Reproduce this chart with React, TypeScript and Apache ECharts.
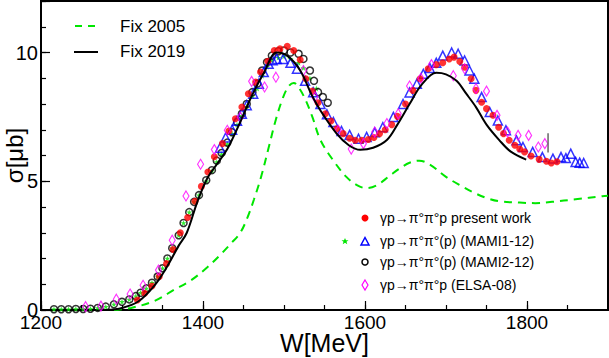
import React, { useEffect, useRef } from "react";
import * as echarts from "echarts";

// ---------- data (W [MeV], sigma [µb]) ----------
const fix2019: [number, number][] = [
  [1280, 0.0], [1300, 0.08], [1320, 0.33], [1340, 0.95], [1355, 1.65], [1370, 2.5],
  [1380, 3.0], [1393, 4.2], [1405, 5.1], [1418, 5.7], [1430, 6.25], [1446, 7.3],
  [1460, 8.3], [1475, 9.2], [1491, 10.0], [1505, 9.85], [1520, 9.3], [1535, 8.3],
  [1545, 7.75], [1565, 6.85], [1580, 6.4], [1594, 6.22], [1610, 6.3], [1627, 6.6],
  [1640, 7.2], [1655, 8.0], [1670, 8.75], [1688, 9.21], [1700, 9.15], [1713, 8.9],
  [1725, 8.4], [1737, 7.88], [1750, 7.2], [1766, 6.59], [1780, 6.15], [1799, 5.84],
];

const fix2005: [number, number][] = [
  [1290, 0.0], [1311, 0.08], [1340, 0.35], [1364, 0.78], [1385, 1.15], [1405, 1.65],
  [1420, 2.1], [1435, 2.6], [1446, 3.0], [1455, 3.6], [1463, 4.3], [1472, 5.2],
  [1481, 6.3], [1490, 7.4], [1499, 8.27], [1506, 8.7], [1512, 8.82], [1518, 8.65],
  [1526, 8.2], [1535, 7.5], [1545, 6.6], [1561, 5.8], [1577, 5.17], [1590, 4.85],
  [1602, 4.73], [1615, 4.85], [1630, 5.2], [1643, 5.5], [1655, 5.72], [1667, 5.8],
  [1680, 5.65], [1700, 5.17], [1717, 4.85], [1735, 4.55], [1750, 4.35], [1766, 4.22],
  [1791, 4.17], [1810, 4.15], [1831, 4.2], [1860, 4.3], [1893, 4.42], [1900, 4.44],
];

const presentWork: [number, number][] = [
  [1319, 0.39], [1328, 0.65], [1337, 0.93], [1346, 1.3], [1355, 1.8], [1363, 2.35],
  [1372, 3.0], [1381, 3.59], [1390, 4.22], [1398, 4.8], [1406, 5.36], [1414, 5.95],
  [1424, 6.46], [1432, 6.95], [1440, 7.43], [1448, 7.88], [1456, 8.4], [1465, 8.85],
  [1471, 9.24], [1480, 9.66], [1488, 10.08], [1495, 10.14], [1504, 10.24], [1512, 10.08],
  [1520, 9.72], [1527, 8.98], [1535, 8.5], [1542, 8.05], [1551, 7.62], [1558, 7.34],
  [1565, 7.04], [1573, 6.85], [1581, 6.67], [1588, 6.59], [1596, 6.59], [1604, 6.62],
  [1611, 6.7], [1618, 6.85], [1625, 7.0], [1633, 7.2], [1640, 7.52], [1650, 8.0],
  [1659, 8.53], [1668, 8.98], [1678, 9.37], [1688, 9.53], [1696, 9.6], [1704, 9.75],
  [1710, 9.82], [1717, 9.65], [1723, 9.43], [1731, 8.98], [1737, 8.53], [1744, 8.07],
  [1750, 7.82], [1758, 7.56], [1765, 7.1], [1771, 6.85], [1778, 6.59], [1785, 6.4],
  [1791, 6.25], [1797, 6.14], [1805, 5.98], [1815, 5.85], [1824, 5.78], [1830, 5.71],
  [1837, 5.76],
];

const mami1Stars: [number, number][] = [
  [1216, 0.03], [1225, 0.03], [1234, 0.03], [1243, 0.04], [1252, 0.04], [1261, 0.05],
  [1270, 0.08], [1280, 0.13], [1290, 0.22], [1300, 0.32], [1309, 0.41], [1317, 0.54],
  [1323, 0.67], [1330, 0.84], [1337, 1.06], [1344, 1.3], [1350, 1.62], [1356, 2.0],
  [1362, 2.4], [1370, 2.9], [1376, 3.38], [1383, 3.8], [1389, 4.2], [1395, 4.46],
  [1404, 5.0], [1411, 5.4], [1417, 5.75], [1423, 6.05], [1430, 6.45], [1436, 6.85],
  [1442, 7.2], [1448, 7.55], [1454, 7.9], [1461, 8.3], [1467, 8.6], [1473, 9.1],
  [1479, 9.45], [1485, 9.7], [1493, 9.8], [1500, 9.85], [1508, 9.75], [1518, 9.6],
  [1524, 9.4], [1532, 9.0], [1540, 8.6],
];

const mami1Triangles: [number, number][] = [
  [1421, 6.3], [1428, 6.7], [1436, 7.0], [1442, 7.35], [1448, 7.62], [1454, 7.95],
  [1462, 8.4], [1469, 8.79], [1475, 9.24], [1481, 9.56], [1486, 9.7], [1491, 9.75],
  [1499, 9.75], [1508, 9.6], [1516, 9.37], [1526, 8.9], [1536, 8.46], [1545, 8.0],
  [1553, 7.6], [1561, 7.3], [1571, 6.95], [1581, 6.8], [1592, 6.65], [1602, 6.72],
  [1612, 6.9], [1622, 7.1], [1635, 7.5], [1647, 8.0], [1655, 8.45], [1664, 8.79],
  [1672, 9.17], [1680, 9.4], [1688, 9.6], [1696, 9.88], [1707, 10.0], [1715, 9.95],
  [1723, 9.69], [1729, 9.3], [1735, 8.98], [1744, 8.27], [1754, 7.69], [1764, 7.36],
  [1774, 6.98], [1787, 6.59], [1795, 6.33], [1807, 6.14], [1819, 5.94], [1832, 5.88],
  [1842, 5.94], [1848, 5.9], [1854, 6.07], [1860, 5.75], [1865, 5.72], [1870, 5.71],
];

const mami2Circles: [number, number][] = [
  [1216, 0.03], [1225, 0.03], [1234, 0.03], [1243, 0.04], [1252, 0.04], [1261, 0.05],
  [1270, 0.08], [1280, 0.13], [1290, 0.22], [1300, 0.32], [1309, 0.41], [1317, 0.54],
  [1323, 0.67], [1330, 0.84], [1337, 1.06], [1344, 1.3], [1350, 1.62], [1356, 2.0],
  [1362, 2.4], [1370, 2.9], [1376, 3.38], [1383, 3.8], [1389, 4.2], [1395, 4.46],
  [1404, 5.04], [1411, 5.43], [1417, 5.8], [1423, 6.1], [1430, 6.5], [1436, 6.9],
  [1442, 7.3], [1448, 7.62], [1454, 8.0], [1461, 8.46], [1467, 8.79], [1473, 9.3],
  [1479, 9.62], [1485, 9.88], [1493, 10.05], [1500, 10.08], [1508, 10.0], [1518, 9.95],
  [1524, 9.75], [1532, 9.3], [1537, 8.9], [1542, 8.46], [1548, 8.27], [1554, 8.05],
];

const elsa08: [number, number][] = [
  [1255, 0.13], [1274, 0.15], [1293, 0.42], [1310, 0.62], [1326, 0.96], [1345, 1.55],
  [1362, 2.71], [1379, 4.43], [1397, 5.66], [1414, 6.23], [1430, 6.98], [1446, 7.49],
  [1460, 8.88], [1476, 8.66], [1490, 9.04], [1524, 9.3], [1538, 8.27], [1567, 6.98],
  [1583, 6.25], [1598, 6.46], [1612, 6.91], [1627, 7.24], [1641, 7.62], [1655, 8.7],
  [1669, 9.0], [1682, 9.53], [1709, 9.1], [1723, 9.37], [1737, 8.6], [1750, 8.5],
  [1763, 7.56], [1776, 6.91], [1789, 6.78], [1802, 6.78], [1814, 6.33], [1822, 6.46],
];

const errorBar: [number, number][] = [[1826, 6.12], [1826, 6.86]];

const xTickLabels = ["1200", "1400", "1600", "1800"];
const yTickLabels = ["0", "5", "10"];

const legendTop = ["Fix 2005", "Fix 2019"];
const legendData = [
  "γp→π°π°p present work",
  "γp→π°π°(p) (MAMI1-12)",
  "γp→π°π°(p) (MAMI2-12)",
  "γp→π°π°p (ELSA-08)",
];

const GREEN = "#00e600";
const FONT = "Liberation Sans, Arial, Helvetica, sans-serif";
const STAR = "path://M50,0 L61,35 L98,35 L68,57 L79,91 L50,70 L21,91 L32,57 L2,35 L39,35 Z";

export default function App() {
  const ref = useRef<HTMLDivElement>(null);
  useEffect(() => {
    if (!ref.current) return;
    const chart = echarts.init(ref.current, undefined, { renderer: "svg" });
    const hollow = (c: string, w = 1.5) => ({ color: "rgba(0,0,0,0)", borderColor: c, borderWidth: w });
    const option: any = {
      animation: false,
      backgroundColor: "#fff",
      grid: {
        left: 41, right: 1, top: 1, bottom: 48, show: true, borderColor: "#000", borderWidth: 2,
        backgroundColor: "transparent", containLabel: false, outerBoundsMode: "none",
      },
      xAxis: [
        {
          type: "value", min: 1200, max: 1900, interval: 200,
          axisLine: { show: true, lineStyle: { color: "#000", width: 2 } },
          axisTick: { show: true, inside: true, length: 9, lineStyle: { color: "#000", width: 1.2 } },
          splitLine: { show: false },
          axisLabel: {
            color: "#000", fontSize: 19, fontFamily: FONT, margin: 5, lineHeight: 15,
            formatter: (v: number) => (xTickLabels.includes(String(v)) ? String(v) : ""),
          },
          name: "W[MeV]", nameLocation: "middle", nameGap: 20, nameMoveOverlap: false,
          nameTextStyle: { color: "#000", fontSize: 25, fontFamily: FONT, lineHeight: 25 },
        },
        {
          type: "value", min: 1200, max: 1900, interval: 50, position: "bottom",
          axisLine: { show: false },
          axisTick: { show: true, inside: true, length: 5, lineStyle: { color: "#000", width: 1.2 } },
          axisLabel: { show: false }, splitLine: { show: false },
        },
      ],
      yAxis: [
        {
          type: "value", min: 0, max: 12, interval: 5,
          axisLine: { show: true, lineStyle: { color: "#000", width: 2 } },
          axisTick: { show: true, inside: true, length: 9, lineStyle: { color: "#000", width: 1.2 } },
          splitLine: { show: false },
          axisLabel: {
            color: "#000", fontSize: 20, fontFamily: FONT, margin: 3, lineHeight: 14,
            formatter: (v: number) => (yTickLabels.includes(String(v)) ? String(v) : ""),
          },
          name: "σ[μb]", nameLocation: "middle", nameGap: 15, nameMoveOverlap: false,
          nameTextStyle: { color: "#000", fontSize: 24, fontFamily: FONT },
        },
        {
          type: "value", min: 0, max: 12, interval: 1, position: "left",
          axisLine: { show: false },
          axisTick: { show: true, inside: true, length: 5, lineStyle: { color: "#000", width: 1.2 } },
          axisLabel: { show: false }, splitLine: { show: false },
        },
      ],
      series: [
        { name: "MAMI1-12 low", type: "scatter", data: mami1Stars, symbol: STAR, symbolSize: 6, itemStyle: { color: GREEN } },
        { name: legendData[2], type: "scatter", data: mami2Circles, symbol: "circle", symbolSize: 7, itemStyle: hollow("#000") },
        { name: legendData[1], type: "scatter", data: mami1Triangles, symbol: "triangle", symbolSize: 9, itemStyle: hollow("#0000ff") },
        { name: legendData[0], type: "scatter", data: presentWork, symbol: "circle", symbolSize: 7, itemStyle: { color: "#ff0000" } },
        { name: legendData[3], type: "scatter", data: elsa08, symbol: "diamond", symbolSize: [6, 10], itemStyle: hollow("#ff00ff", 1.2) },
        { name: "error", type: "line", data: errorBar, symbol: "none", lineStyle: { color: "#666", width: 1.5 }, silent: true },
        { name: legendTop[0], type: "line", data: fix2005, symbol: "none", smooth: 0.35, lineStyle: { color: GREEN, width: 2, type: [8, 6] } },
        { name: legendTop[1], type: "line", data: fix2019, symbol: "none", smooth: 0.35, lineStyle: { color: "#000", width: 2 } },
      ],
      graphic: [
        { type: "line", shape: { x1: 75, y1: 26, x2: 98, y2: 26 }, style: { stroke: GREEN, lineWidth: 2, lineDash: [7, 6] } },
        { type: "text", x: 120, y: 26, style: { text: legendTop[0], font: `17px ${FONT}`, fill: "#000", verticalAlign: "middle" } },
        { type: "line", shape: { x1: 74, y1: 52, x2: 98, y2: 52 }, style: { stroke: "#000", lineWidth: 2 } },
        { type: "text", x: 120, y: 51, style: { text: legendTop[1], font: `17px ${FONT}`, fill: "#000", verticalAlign: "middle" } },

        { type: "circle", shape: { cx: 365, cy: 218, r: 3.5 }, style: { fill: "#ff0000" } },
        { type: "text", x: 380, y: 218, style: { text: legendData[0], font: `14px ${FONT}`, fill: "#000", verticalAlign: "middle" } },
        { type: "polygon", shape: { points: [[345, 238], [346, 240.3], [348.5, 240.3], [346.5, 241.8], [347.3, 244.2], [345, 242.8], [342.7, 244.2], [343.5, 241.8], [341.5, 240.3], [344, 240.3]] }, style: { fill: GREEN } },
        { type: "polygon", shape: { points: [[365, 237.5], [369, 245], [361, 245]] }, style: { fill: "none", stroke: "#0000ff", lineWidth: 1.5 } },
        { type: "text", x: 380, y: 241, style: { text: legendData[1], font: `14px ${FONT}`, fill: "#000", verticalAlign: "middle" } },
        { type: "circle", shape: { cx: 365, cy: 262, r: 3 }, style: { fill: "none", stroke: "#000", lineWidth: 1.5 } },
        { type: "text", x: 380, y: 262, style: { text: legendData[2], font: `14px ${FONT}`, fill: "#000", verticalAlign: "middle" } },
        { type: "polygon", shape: { points: [[365, 280], [368, 285], [365, 290], [362, 285]] }, style: { fill: "none", stroke: "#ff00ff", lineWidth: 1.2 } },
        { type: "text", x: 380, y: 285, style: { text: legendData[3], font: `14px ${FONT}`, fill: "#000", verticalAlign: "middle" } },
      ],
    };
    chart.setOption(option);
    return () => chart.dispose();
  }, []);
  return <div ref={ref} style={{ position: "fixed", left: 0, top: 0, width: 609, height: 358 }} />;
}
